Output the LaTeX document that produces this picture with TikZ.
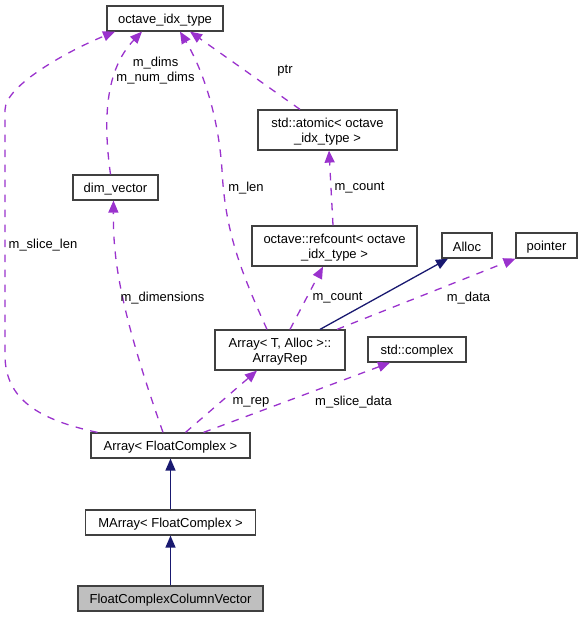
\documentclass[tikz,border=0pt]{standalone}
\usepackage{fontspec}
\setmainfont{Liberation Sans}
\usetikzlibrary{arrows.meta}
\definecolor{edgepurple}{HTML}{9A32CD}
\definecolor{edgenavy}{HTML}{191970}
\definecolor{boxgray}{HTML}{404040}
\definecolor{fillgray}{HTML}{BFBFBF}
\newcommand{\lowtxt}[1]{\raisebox{-1.4pt}[\height][\depth]{#1}}
\begin{document}
\begin{tikzpicture}[x=1pt,y=-1pt,
  font=\fontsize{13}{15}\selectfont,
  box/.style={draw=boxgray, line width=1.2pt, fill=white, inner sep=0pt, align=center, minimum height=25pt},
  box2/.style={box, minimum height=40pt},
  member/.style={draw=edgepurple, line width=1.3pt, dash pattern=on 7.5pt off 7.5pt, -{Triangle[length=12pt,width=10pt]}},
  inherit/.style={draw=edgenavy, line width=1.3pt, -{Triangle[length=12pt,width=10pt]}},
  lbl/.style={inner sep=0pt, align=center}]
\path[use as bounding box] (0,0) rectangle (583,617);

% nodes
\node[box, minimum width=116pt] (oit) at (165,18.5) {\lowtxt{octave\_idx\_type}};
\node[box, minimum width=85pt] (dv) at (115.5,187.5) {\lowtxt{dim\_vector}};
\node[box2, minimum width=139pt] (atom) at (327.5,130) {\lowtxt{std::atomic< octave}\\\lowtxt{\_idx\_type >}};
\node[box2, minimum width=165pt] (rc) at (334.5,246) {\lowtxt{octave::refcount< octave}\\\lowtxt{\_idx\_type >}};
\node[box, minimum width=50pt] (alloc) at (467,245.5) {\lowtxt{Alloc}};
\node[box, minimum width=61pt] (ptrn) at (546.5,245.5) {\lowtxt{pointer}};
\node[box2, minimum width=130pt] (rep) at (280,350) {\lowtxt{Array< T, Alloc >::}\\\lowtxt{ArrayRep}};
\node[box, minimum width=98pt] (cplx) at (417,349.5) {\lowtxt{std::complex}};
\node[box, minimum width=159pt] (arr) at (170.5,445.5) {\lowtxt{Array< FloatComplex >}};
\node[box, minimum width=170pt] (marr) at (170.5,522.5) {\lowtxt{MArray< FloatComplex >}};
\node[box, minimum width=185pt, fill=fillgray] (fccv) at (170.5,598.5) {\lowtxt{FloatComplexColumnVector}};

% member edges
\draw[member] ([xshift=-73pt]arr.north) .. controls (40,420) and (5,400) .. (5,355)
  -- (5,110) .. controls (5,85) and (70,50) .. ([xshift=-50pt]oit.south);
\draw[member] ([xshift=-7.5pt]arr.north) .. controls (118,305) and (113,255) .. ([xshift=-2pt]dv.south);
\draw[member] ([xshift=15pt]arr.north) -- ([xshift=-23pt]rep.south);
\draw[member] ([xshift=33pt]arr.north) -- ([xshift=-27pt]cplx.south);
\draw[member] ([xshift=-13pt]rep.north) .. controls (240,270) and (225,230) .. (222,170)
  .. controls (218,110) and (200,65) .. ([xshift=15pt]oit.south);
\draw[member] ([xshift=10pt]rep.north) -- ([xshift=-11.5pt]rc.south);
\draw[member] ([xshift=57pt]rep.north) -- ([xshift=-31pt]ptrn.south);
\draw[member] ([xshift=-1.5pt]rc.north) -- ([xshift=1.5pt]atom.south);
\draw[member] ([xshift=-27.5pt]atom.north) -- ([xshift=25pt]oit.south);
\draw[member] ([xshift=-5pt]dv.north) .. controls (103,120) and (105,70) .. ([xshift=-23pt]oit.south);

% inheritance edges
\draw[inherit] ([xshift=40pt]rep.north) -- ([xshift=-19pt]alloc.south);
\draw[inherit] (marr.north) -- (arr.south);
\draw[inherit] (fccv.north) -- (marr.south);

% labels
\node[lbl] (l1) at (155.5,71) {m\_dims\\m\_num\_dims};
\node[lbl] (l2) at (285,71) {ptr};
\node[lbl] (l3) at (246,188) {m\_len};
\node[lbl] (l4) at (359.5,188) {m\_count};
\node[lbl] (l5) at (43,245.5) {m\_slice\_len};
\node[lbl] (l6) at (162.5,298) {m\_dimensions};
\node[lbl] (l7) at (337.5,298) {m\_count};
\node[lbl] (l8) at (468.5,298) {m\_data};
\node[lbl] (l9) at (251,402) {m\_rep};
\node[lbl] (l10) at (353.5,402) {m\_slice\_data};
\end{tikzpicture}
\end{document}
